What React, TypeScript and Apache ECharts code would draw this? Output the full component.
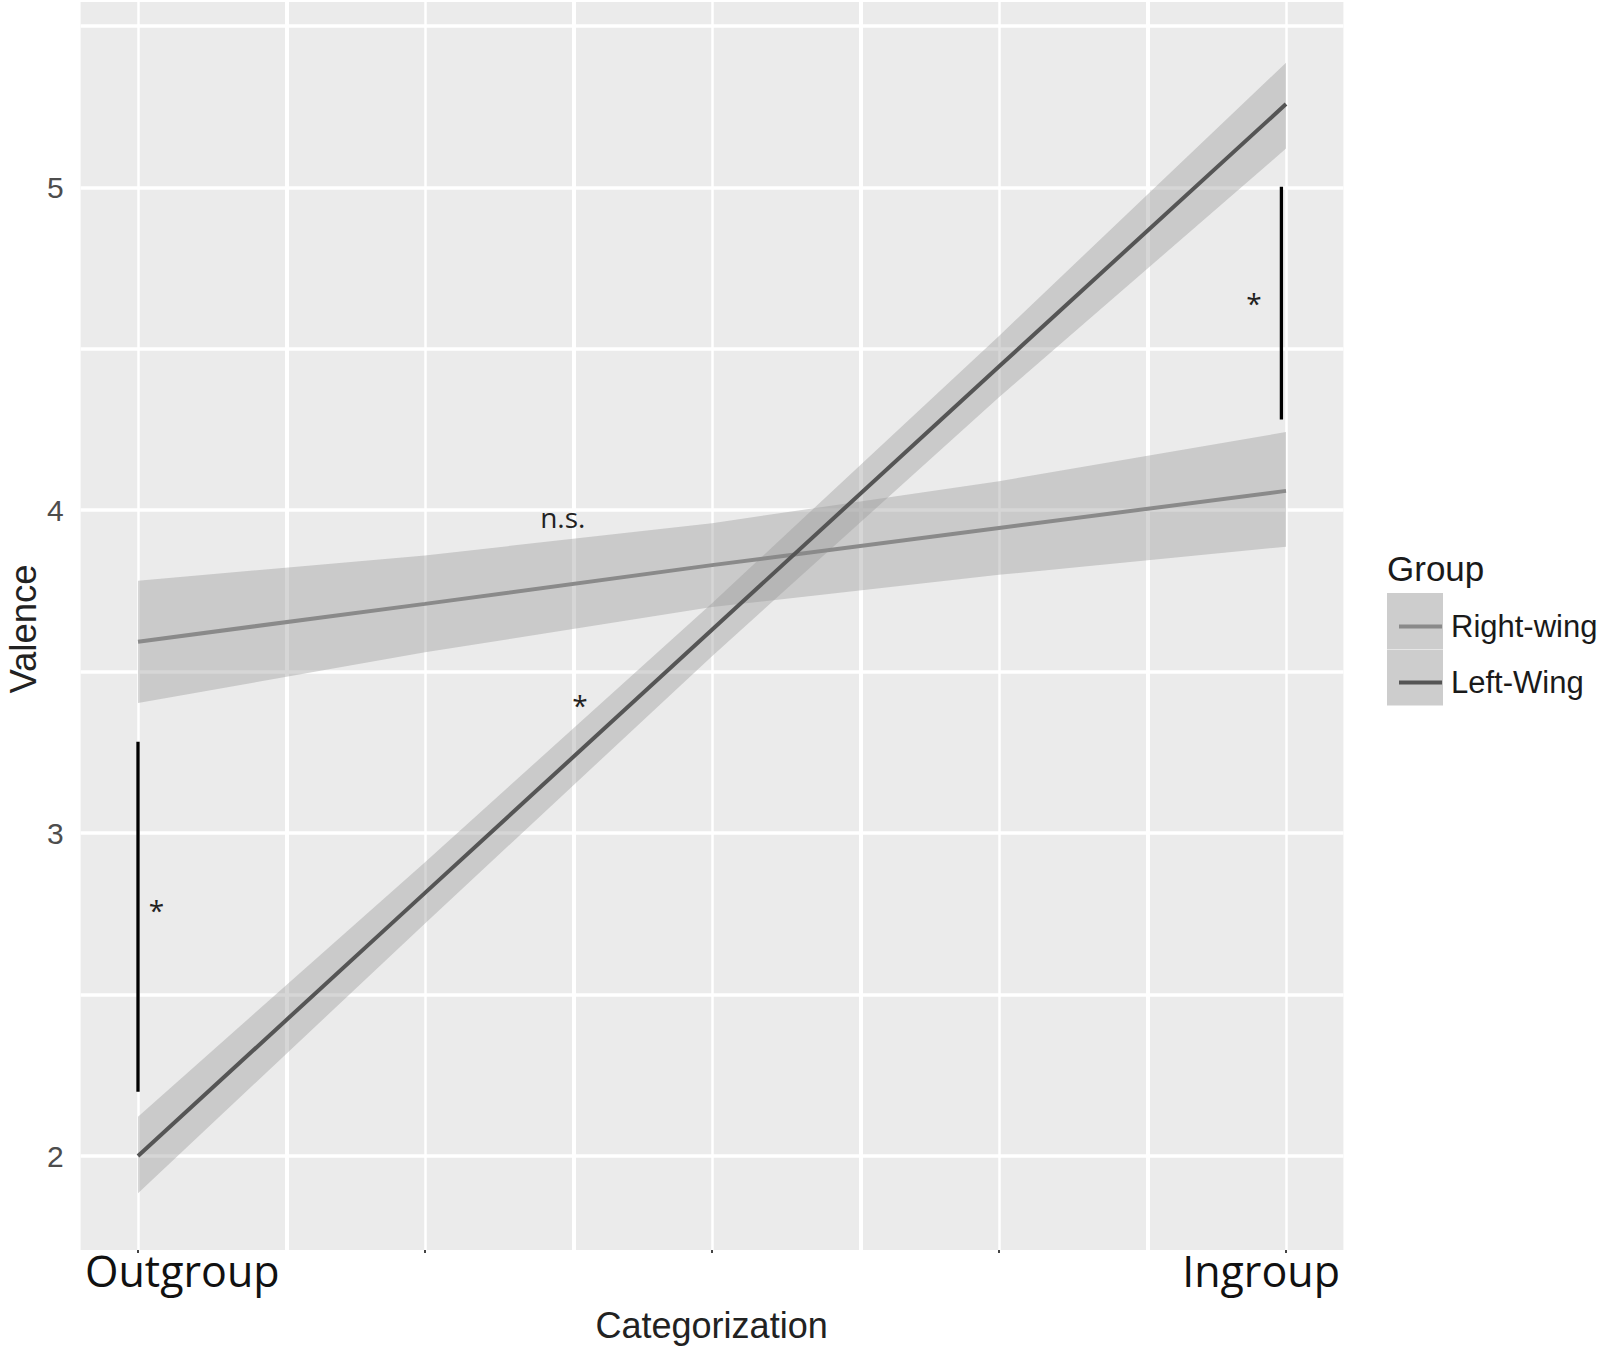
import React, { useEffect, useRef } from 'react';
import * as echarts from 'echarts';

// ---- data ----
const xValues = [0, 0.25, 0.5, 0.75, 1];
const rightWingFit = [3.593, 3.71, 3.83, 3.945, 4.06];
const rightWingLower = [3.403, 3.56, 3.7, 3.8, 3.887];
const rightWingUpper = [3.782, 3.86, 3.96, 4.09, 4.242];
const leftWingFit = [2.0, 2.815, 3.63, 4.445, 5.258];
const leftWingLower = [1.885, 2.72, 3.548, 4.35, 5.12];
const leftWingUpper = [2.122, 2.91, 3.712, 4.54, 5.386];

const yTickValues = [2, 3, 4, 5];
const yMinorValues = [2.5, 3.5, 4.5, 5.5];
const xTickValues = [0, 0.25, 0.5, 0.75, 1];
const xMinorValues = [0.125, 0.375, 0.625, 0.875];
const xEndLabels = ['Outgroup', 'Ingroup'];

const bracketX = [0, 0.996];
const bracketLow = [2.199, 4.281];
const bracketHigh = [3.283, 5.002];
const noteX = [0.016, 0.385, 0.37, 0.972];
const noteY = [2.762, 3.397, 3.979, 4.643];
const noteText = ['*', '*', 'n.s.', '*'];

const seriesNames = ['Right-wing', 'Left-Wing'];
const lineColors = ['#8a8a8a', '#555555'];
const bandColor = 'rgba(153,153,153,0.4)';

const bandLower = [rightWingLower, leftWingLower];
const bandUpper = [rightWingUpper, leftWingUpper];

const pair = (xs: number[], ys: number[]) => xs.map((x, i) => [x, ys[i]]);

export default function App() {
  const ref = useRef<HTMLDivElement>(null);
  useEffect(() => {
    document.body.style.margin = '0';
    const chart = echarts.init(ref.current!, undefined, { renderer: 'svg' });

    const gridLines: any[] = [
      ...xTickValues.map((v) => ({ xAxis: v, lineStyle: { color: '#ffffff', width: 2.5, type: 'solid' } })),
      ...xMinorValues.map((v) => ({ xAxis: v, lineStyle: { color: '#ffffff', width: 4, type: 'solid' } })),
      ...yTickValues.map((v) => ({ yAxis: v, lineStyle: { color: '#ffffff', width: 3.5, type: 'solid' } })),
      ...yMinorValues.map((v) => ({ yAxis: v, lineStyle: { color: '#ffffff', width: 3.5, type: 'solid' } })),
    ];

    const option: any = {
      animation: false,
      grid: {
        left: 80.6, right: 256.6, top: 2, bottom: 98,
        show: true, backgroundColor: '#ebebeb', borderWidth: 0,
      },
      xAxis: {
        type: 'value', min: -0.05, max: 1.05,
        axisLine: { show: false },
        splitLine: { show: false },
        axisLabel: { show: false },
        axisTick: { show: true, customValues: xTickValues, length: 3, lineStyle: { color: '#444', width: 2 } },
      },
      yAxis: {
        type: 'value', min: 1.709, max: 5.574,
        axisLine: { show: false },
        splitLine: { show: false },
        axisTick: { show: true, customValues: yTickValues, length: 8, lineStyle: { color: '#444', width: 2 } },
        axisLabel: {
          show: true, customValues: yTickValues, margin: 17,
          color: '#4d4d4d', fontSize: 30, fontFamily: 'Liberation Sans, Arial, sans-serif',
        },
      },
      legend: {
        orient: 'vertical', left: 1394, top: 606,
        itemWidth: 43, itemHeight: 4, itemGap: 25, selectedMode: false,
        textStyle: {
          fontSize: 31, fontFamily: 'Liberation Sans, Arial, sans-serif', color: '#1a1a1a',
          lineHeight: 31, padding: [0, 0, 0, 4],
        },
        data: seriesNames.map((n, i) => ({ name: n, icon: 'rect', itemStyle: { color: lineColors[i] } })),
      },
      graphic: [
        { type: 'rect', left: 1387, top: 593, shape: { width: 56, height: 56 }, style: { fill: '#cdcdcd' }, z: 0 },
        { type: 'rect', left: 1387, top: 649.5, shape: { width: 56, height: 56 }, style: { fill: '#cdcdcd' }, z: 0 },
        {
          type: 'text', x: 1387, y: 568,
          style: { text: 'Group', fontSize: 35, fontFamily: 'Liberation Sans, Arial, sans-serif', fill: '#1a1a1a', align: 'left', verticalAlign: 'middle' },
        },
        {
          type: 'text', x: 85, y: 1270,
          style: { text: xEndLabels[0], fontSize: 43, fontFamily: 'Open Sans, Noto Sans, sans-serif', fill: '#111', align: 'left', verticalAlign: 'middle' },
        },
        {
          type: 'text', x: 1340, y: 1270,
          style: { text: xEndLabels[1], fontSize: 43, fontFamily: 'Open Sans, Noto Sans, sans-serif', fill: '#111', align: 'right', verticalAlign: 'middle' },
        },
        {
          type: 'text', x: 711.6, y: 1325,
          style: { text: 'Categorization', fontSize: 36, fontFamily: 'Liberation Sans, Arial, sans-serif', fill: '#222', align: 'center', verticalAlign: 'middle' },
        },
        {
          type: 'text', x: 23, y: 629, rotation: Math.PI / 2,
          style: { text: 'Valence', fontSize: 36.5, fontFamily: 'Liberation Sans, Arial, sans-serif', fill: '#222', align: 'center', verticalAlign: 'middle' },
        },
      ],
      series: [
        {
          name: '_grid', type: 'line', data: [[0, 2]], symbol: 'none',
          lineStyle: { width: 0, opacity: 0 }, silent: true, z: 1, emphasis: { disabled: true },
          markLine: {
            silent: true, symbol: ['none', 'none'], label: { show: false }, z: 1, animation: false,
            emphasis: { disabled: true }, data: gridLines,
          },
        },
        {
          name: '_bands', type: 'custom', z: 2, silent: true,
          data: bandLower.map((lo, i) => [xValues[0], lo[0], i]),
          renderItem: (params: any, api: any) => {
            const lo = bandLower[params.dataIndex];
            const hi = bandUpper[params.dataIndex];
            const pts: number[][] = [];
            xValues.forEach((x, i) => pts.push(api.coord([x, hi[i]])));
            for (let i = xValues.length - 1; i >= 0; i--) pts.push(api.coord([xValues[i], lo[i]]));
            return {
              type: 'polygon',
              shape: { points: pts },
              style: { fill: bandColor, stroke: 'none' },
            };
          },
        },
        {
          name: seriesNames[0], type: 'line', data: pair(xValues, rightWingFit), symbol: 'none',
          lineStyle: { color: lineColors[0], width: 4 }, itemStyle: { color: lineColors[0] }, z: 3,
          emphasis: { disabled: true },
        },
        {
          name: seriesNames[1], type: 'line', data: pair(xValues, leftWingFit), symbol: 'none',
          lineStyle: { color: lineColors[1], width: 4 }, itemStyle: { color: lineColors[1] }, z: 3,
          emphasis: { disabled: true },
        },
        {
          name: '_brackets', type: 'custom', z: 4, silent: true,
          data: bracketX.map((x, i) => [x, bracketLow[i], bracketHigh[i]]),
          renderItem: (params: any, api: any) => {
            const a = api.coord([api.value(0), api.value(1)]);
            const b = api.coord([api.value(0), api.value(2)]);
            return {
              type: 'line',
              shape: { x1: a[0], y1: a[1], x2: b[0], y2: b[1] },
              style: { stroke: '#000000', lineWidth: 3.3 },
            };
          },
        },
        {
          name: '_notes', type: 'custom', z: 4, silent: true,
          data: pair(noteX, noteY),
          renderItem: (params: any, api: any) => {
            const p = api.coord([api.value(0), api.value(1)]);
            return {
              type: 'text', x: p[0], y: p[1],
              style: {
                text: noteText[params.dataIndex], fontSize: 28,
                fontFamily: 'Open Sans, Noto Sans, sans-serif', fill: '#222',
                align: 'center', verticalAlign: 'middle',
              },
            };
          },
        },
      ],
    };
    chart.setOption(option);
    return () => chart.dispose();
  }, []);
  return <div ref={ref} style={{ position: 'absolute', left: 0, top: 0, width: 1600, height: 1348 }} />;
}
